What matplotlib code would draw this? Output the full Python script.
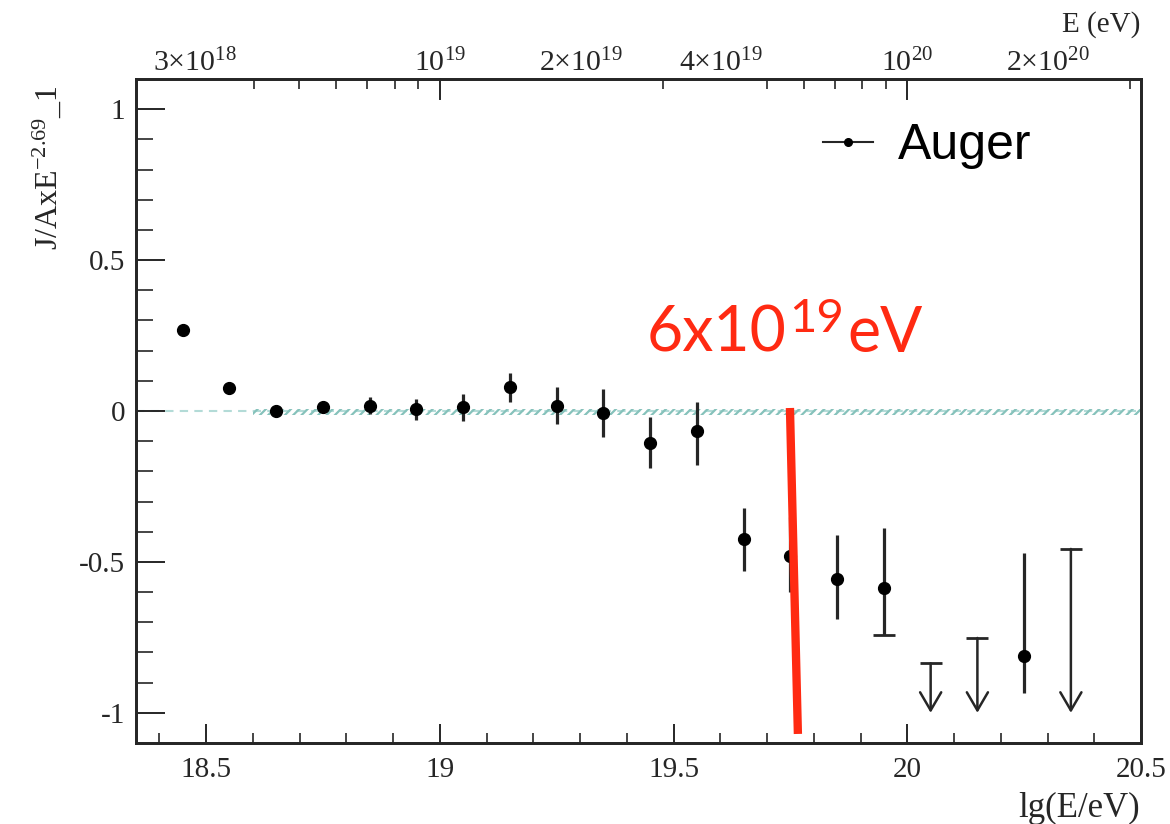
import numpy as np
import matplotlib
matplotlib.use("Agg")
import matplotlib.pyplot as plt
from matplotlib.lines import Line2D

# ---------------- data ----------------
lgE = [18.45, 18.55, 18.65, 18.75, 18.85, 18.95, 19.05, 19.15, 19.25, 19.35,
       19.45, 19.55, 19.65, 19.75, 19.85, 19.95, 20.25]
ratio = [0.27, 0.075, 0.0, 0.012, 0.018, 0.005, 0.012, 0.078, 0.018, -0.008,
         -0.105, -0.065, -0.424, -0.48, -0.556, -0.586, -0.812]
ratio_hi = [0.28, 0.085, 0.01, 0.025, 0.045, 0.04, 0.057, 0.126, 0.078, 0.072,
            -0.02, 0.03, -0.32, -0.35, -0.41, -0.387, -0.47]
ratio_lo = [0.26, 0.065, -0.01, 0.0, -0.009, -0.03, -0.033, 0.03, -0.043, -0.085,
            -0.19, -0.18, -0.53, -0.60, -0.69, -0.741, -0.935]
lower_caps_x = [19.95]
lower_caps_y = [-0.741]

ul_lgE = [20.05, 20.15, 20.35]
ul_val = [-0.836, -0.752, -0.457]
ul_tip = -1.0

zero_line_x = [18.35, 20.5]
band_x = [18.6, 20.5]

cutoff_x = [19.749, 19.766]
cutoff_y = [0.01, -1.07]

x_ticks = [18.5, 19, 19.5, 20, 20.5]
x_ticklabels = ["18.5", "19", "19.5", "20", "20.5"]
y_ticks = [-1, -0.5, 0, 0.5, 1]
y_ticklabels = ["-1", "-0.5", "0", "0.5", "1"]

top_E = [3e18, 1e19, 2e19, 4e19, 1e20, 2e20]
top_labels = ["3×10$^{18}$", "10$^{19}$", "2×10$^{19}$", "4×10$^{19}$",
              "10$^{20}$", "2×10$^{20}$"]
top_major_E = [1e19, 1e20]
top_minor_E = [3e18, 4e18, 5e18, 6e18, 7e18, 8e18, 9e18, 2e19, 3e19, 4e19, 5e19,
               6e19, 7e19, 8e19, 9e19, 2e20, 3e20]

# ---------------- style ----------------
plt.rcParams['axes.unicode_minus'] = False
plt.rcParams['mathtext.fontset'] = 'custom'
plt.rcParams['mathtext.rm'] = 'Liberation Serif'
plt.rcParams['mathtext.it'] = 'Liberation Serif:italic'
plt.rcParams['mathtext.bf'] = 'Liberation Serif:bold'
plt.rcParams['hatch.linewidth'] = 1.6

W, H = 1170, 824
fig = plt.figure(figsize=(W / 100, H / 100), dpi=100)
L, R, T, B = 136, 1141, 79, 743
ax = fig.add_axes([L / W, 1 - B / H, (R - L) / W, (B - T) / H])

serif = 'Liberation Serif'
dark = '#262626'

YMAX = 1.1
ax.set_xlim(18.35, 20.5)
ax.set_ylim(-1.1, YMAX)

# zero reference line + hatched band
ax.plot(zero_line_x, [0, 0], ls=(0, (4, 3)), color='#b3dbd7', lw=1.5, zorder=1)
ax.fill_between(band_x, -0.012, 0.007, facecolor='none', edgecolor='#86c2bb',
                hatch='////', linewidth=0, zorder=1)

# data points with error bars
y = np.array(ratio)
yerr = [y - np.array(ratio_lo), np.array(ratio_hi) - y]
ax.errorbar(lgE, ratio, yerr=yerr, fmt='o', color='black', ms=8.5,
            ecolor=dark, elinewidth=2.3, capsize=0, zorder=4)
ax.plot(lower_caps_x, lower_caps_y, marker='_', ms=16, mew=2.0, color=dark,
        ls='none', zorder=3)

# upper limits
ax.plot(ul_lgE, ul_val, marker='_', ms=16, mew=2.0, color=dark, ls='none', zorder=3)
for xv, yv in zip(ul_lgE, ul_val):
    ax.annotate('', xy=(xv, ul_tip), xytext=(xv, yv),
                arrowprops=dict(arrowstyle='->,head_length=0.65,head_width=0.38',
                                mutation_scale=20, lw=1.8, color=dark,
                                shrinkA=0, shrinkB=0), zorder=3)

# red cutoff line
ax.plot(cutoff_x, cutoff_y, color='#ff2a12', lw=6, solid_capstyle='butt', zorder=6)

# axes styling
for s in ax.spines.values():
    s.set_linewidth(2.0)
    s.set_color(dark)

ax.set_xticks(x_ticks)
ax.set_xticklabels(x_ticklabels)
ax.set_xticks(np.arange(18.4, 20.5, 0.1), minor=True)
ax.set_yticks(y_ticks)
ax.set_yticklabels(y_ticklabels)
ax.set_yticks(np.arange(-1.0, 1.05, 0.1), minor=True)

ax.tick_params(axis='x', which='major', direction='in', length=14, width=1.4,
               color=dark, top=False, labelsize=21, pad=10, labelcolor=dark)
ax.tick_params(axis='x', which='minor', direction='in', length=7, width=1.2,
               color=dark, top=False)
ax.tick_params(axis='y', which='major', direction='in', length=21, width=1.4,
               color=dark, right=False, labelsize=21, pad=8, labelcolor=dark)
ax.tick_params(axis='y', which='minor', direction='in', length=12, width=1.2,
               color=dark, right=False)
for lab in ax.get_xticklabels() + ax.get_yticklabels():
    lab.set_family(serif)

# top energy axis
ax2 = ax.twiny()
ax2.set_xlim(ax.get_xlim())
ax2.set_xticks(np.log10(top_E))
ax2.set_xticklabels(top_labels, family=serif)
ax2.set_xticks(np.log10(top_minor_E), minor=True)
ax2.tick_params(axis='x', which='major', direction='in', length=0, labelsize=21.5,
                pad=1, labelcolor=dark)
ax2.tick_params(axis='x', which='minor', direction='in', length=7, width=1.2,
                color=dark)
ax2.xaxis.set_tick_params(which='both', bottom=False, labelbottom=False)
for xv in np.log10(top_major_E):
    ax2.plot([xv, xv], [YMAX, YMAX - 0.066], color=dark, lw=1.4, zorder=2,
             clip_on=False)
for s in ax2.spines.values():
    s.set_linewidth(2.0)
    s.set_color(dark)

# axis titles
fig.text(1140 / W, 1 - 808 / H, "lg(E/eV)", family=serif, fontsize=25,
         ha='right', va='center', color=dark)
fig.text(1140 / W, 1 - 25 / H, "E (eV)", family=serif, fontsize=21,
         ha='right', va='center', color=dark)
fig.text(47 / W, 1 - 168 / H, "J/AxE$^{\\mathregular{-2.69}}$_1", family=serif,
         fontsize=23, rotation=90, ha='center', va='center', color=dark)

# legend
proxy = Line2D([], [], color=dark, lw=1.5, marker='o', ms=5.5,
               markerfacecolor='black', markeredgecolor='black')
fig.legend([proxy], ["Auger"], loc='center left',
           bbox_to_anchor=(823 / W, 1 - 146 / H), frameon=False,
           prop=dict(family='Liberation Sans', size=36), handlelength=1.0,
           handletextpad=0.5, borderpad=0, borderaxespad=0)

# red annotation text
red = '#ff2a12'
base_y = 1 - 352 / H
fig.text(647 / W, base_y, "6x10", family='Lato', fontsize=45, color=red,
         ha='left', va='baseline')
fig.text(789 / W, 1 - 332 / H, "19", family='Lato', fontsize=34, color=red,
         ha='left', va='baseline')
fig.text(847 / W, base_y, "eV", family='Lato', fontsize=45, color=red,
         ha='left', va='baseline')

fig.savefig("out.png", dpi=100)
